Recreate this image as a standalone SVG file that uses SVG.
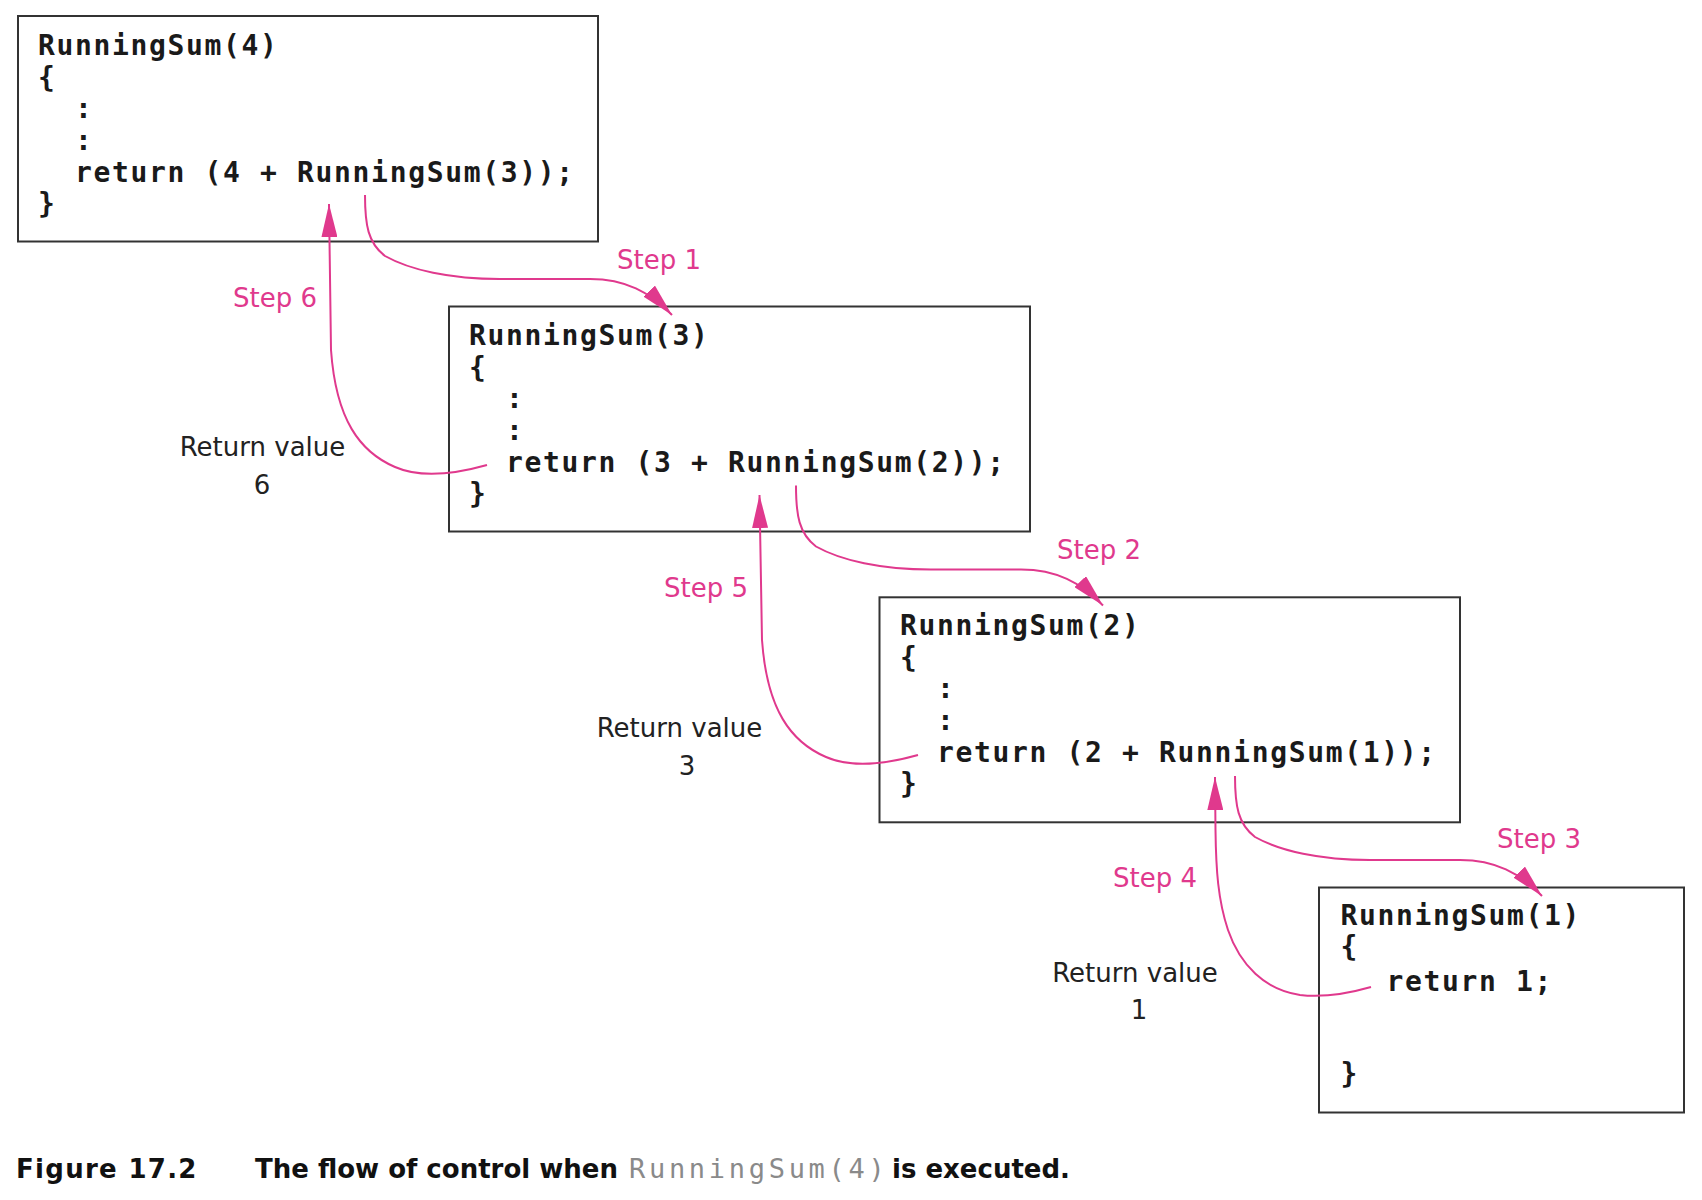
<svg xmlns="http://www.w3.org/2000/svg" width="1702" height="1200" viewBox="0 0 1702 1200">
<style>
.box{fill:#fff;stroke:#333;stroke-width:2}
.code{font-family:"DejaVu Sans Mono","Liberation Mono",monospace;font-weight:bold;font-size:28px;letter-spacing:1.65px;fill:#1a1a1a}
.conn{fill:none;stroke:#e0398d;stroke-width:2}
.step{font-family:"DejaVu Sans","Liberation Sans",sans-serif;font-size:26px;fill:#e0398d}
.rv{font-family:"DejaVu Sans","Liberation Sans",sans-serif;font-size:26px;fill:#222}
.cap{font-family:"DejaVu Sans","Liberation Sans",sans-serif;font-weight:bold;font-size:26px;fill:#111}
.capmono{font-family:"DejaVu Sans Mono","Liberation Mono",monospace;font-size:27px;letter-spacing:3.7px;fill:#8a8a8a}
</style>
<defs>
<marker id="ah" viewBox="0 0 33 16" refX="33" refY="8" markerWidth="33" markerHeight="16" markerUnits="userSpaceOnUse" orient="auto">
<path d="M0,0 L33,8 L0,16 Z" fill="#e0398d"/>
</marker>
</defs>
<rect width="1702" height="1200" fill="#fff"/>

<g id="box1">
<rect class="box" x="18" y="16" width="580" height="225.5"/>
<text class="code" x="38" y="55">RunningSum(4)</text>
<text class="code" x="38" y="86.7">{</text>
<text class="code" x="75" y="118.3">:</text>
<text class="code" x="75" y="150">:</text>
<text class="code" x="75" y="181.7">return (4 + RunningSum(3));</text>
<text class="code" x="38" y="213.3">}</text>
</g>

<g id="box2">
<rect class="box" x="449" y="306.5" width="581" height="225"/>
<text class="code" x="469" y="345">RunningSum(3)</text>
<text class="code" x="469" y="376.7">{</text>
<text class="code" x="506" y="408.3">:</text>
<text class="code" x="506" y="440">:</text>
<text class="code" x="506" y="471.7">return (3 + RunningSum(2));</text>
<text class="code" x="469" y="503.3">}</text>
</g>

<g id="box3">
<rect class="box" x="879.5" y="597.3" width="580.5" height="225"/>
<text class="code" x="900" y="635">RunningSum(2)</text>
<text class="code" x="900" y="666.7">{</text>
<text class="code" x="937" y="698.3">:</text>
<text class="code" x="937" y="730">:</text>
<text class="code" x="937" y="761.7">return (2 + RunningSum(1));</text>
<text class="code" x="900" y="793.3">}</text>
</g>

<g id="box4">
<rect class="box" x="1319" y="887.5" width="365" height="225"/>
<text class="code" x="1340.5" y="924.5">RunningSum(1)</text>
<text class="code" x="1340.5" y="955.5">{</text>
<text class="code" x="1386.5" y="990.5">return 1;</text>
<text class="code" x="1340.5" y="1083">}</text>
</g>

<g id="connectors">
<path class="conn" marker-end="url(#ah)" d="M365,195 C365,225 368,243 385,256 C410,270 450,279 500,279 L590,279 C625,279 650,292 672,315"/>
<path class="conn" marker-end="url(#ah)" d="M796,485.5 C796,515.5 799,533.5 816,546.5 C841,560.5 881,569.5 931,569.5 L1021,569.5 C1056,569.5 1081,582.5 1103,605.5"/>
<path class="conn" marker-end="url(#ah)" d="M1235,776 C1235,806 1238,824 1255,837 C1280,851 1320,860 1370,860 L1460,860 C1495,860 1520,873 1542,896"/>
<path class="conn" marker-end="url(#ah)" d="M1371,987 C1350,993 1325,998 1300,995 C1265,990 1240,965 1228,930 C1218,900 1216,870 1215.5,830 L1215,777"/>
<path class="conn" marker-end="url(#ah)" d="M918,755 C886,764 851,768 826,757 C791,742 767,710 762,640 L759.5,495"/>
<path class="conn" marker-end="url(#ah)" d="M487,465 C455,474 420,478 395,467 C360,452 336,420 331,350 L329,204"/>
</g>

<g id="labels">
<text class="step" x="617" y="269">Step 1</text>
<text class="step" x="1057" y="559">Step 2</text>
<text class="step" x="1497" y="848">Step 3</text>
<text class="step" x="1113" y="887">Step 4</text>
<text class="step" x="664" y="597">Step 5</text>
<text class="step" x="233" y="307">Step 6</text>
<text class="rv" x="262.5" y="456" text-anchor="middle">Return value</text>
<text class="rv" x="262" y="494" text-anchor="middle">6</text>
<text class="rv" x="679.5" y="737" text-anchor="middle">Return value</text>
<text class="rv" x="687" y="775" text-anchor="middle">3</text>
<text class="rv" x="1135" y="982" text-anchor="middle">Return value</text>
<text class="rv" x="1139" y="1019" text-anchor="middle">1</text>
</g>

<g id="caption">
<text class="cap" x="16" y="1178" style="letter-spacing:1.3px">Figure 17.2</text>
<text class="cap" x="255" y="1178">The flow of control when</text>
<text class="capmono" x="629" y="1178">RunningSum(4)</text>
<text class="cap" x="892" y="1178">is executed.</text>
</g>
</svg>
